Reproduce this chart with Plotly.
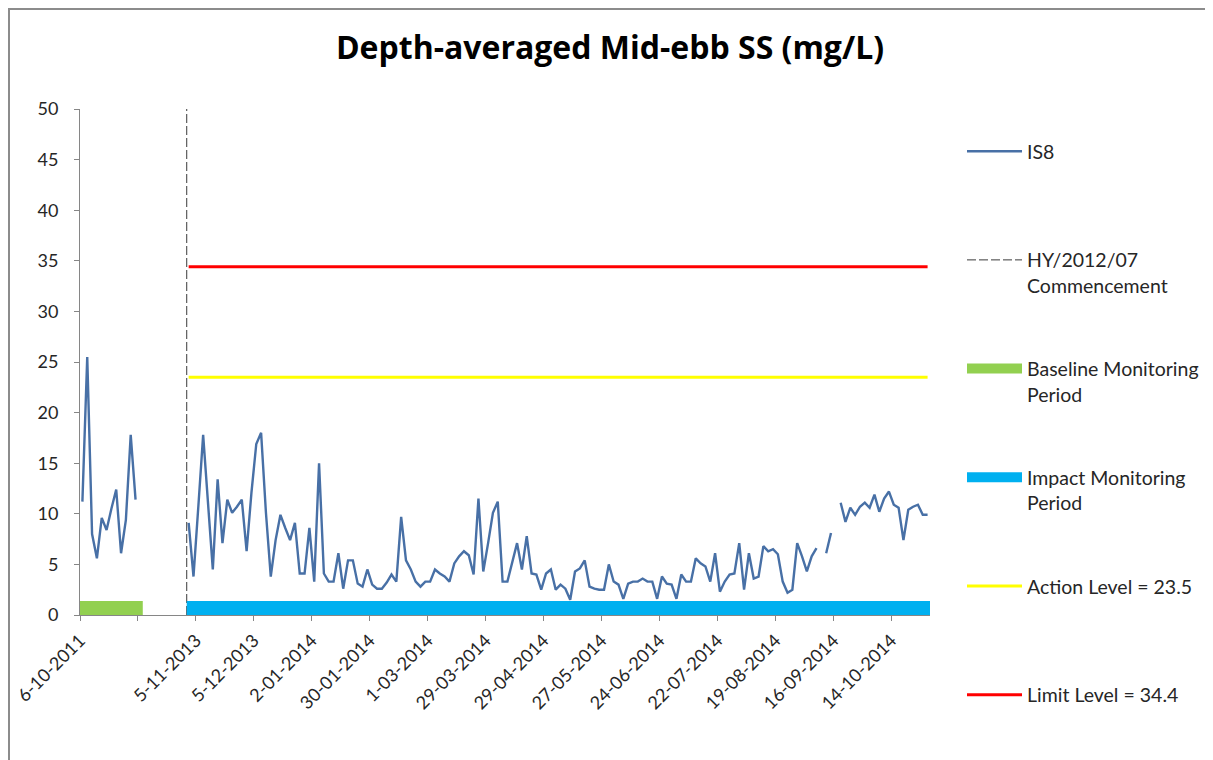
import plotly.graph_objects as go

# ---------------- data ----------------
baseline_values = [11.2, 25.5, 8.0, 5.6, 9.6, 8.4, 10.5, 12.4, 6.1, 9.4, 17.8, 11.4]
gap_categories = 10  # empty categories between baseline and impact monitoring
impact_values = [
    9.1, 3.8, 10.7, 17.8, 11.1, 4.5, 13.4, 7.1, 11.4, 10.1,
    10.7, 11.4, 6.3, 12.1, 16.9, 18.0, 10.1, 3.8, 7.4, 9.9,
    8.6, 7.4, 9.1, 4.1, 4.1, 8.6, 3.3, 15.0, 4.1, 3.3,
    3.3, 6.1, 2.6, 5.4, 5.4, 3.1, 2.8, 4.5, 3.0, 2.6,
    2.6, 3.2, 4.0, 3.3, 9.7, 5.4, 4.5, 3.3, 2.8, 3.3,
    3.3, 4.5, 4.1, 3.8, 3.3, 5.1, 5.8, 6.3, 5.9, 4.0,
    11.5, 4.3, 7.1, 10.1, 11.2, 3.3, 3.3, 5.1, 7.1, 4.5,
    7.8, 4.1, 4.0, 2.5, 4.1, 4.5, 2.5, 3.0, 2.6, 1.5,
    4.3, 4.6, 5.4, 2.8, 2.6, 2.5, 2.5, 5.0, 3.3, 3.0,
    1.6, 3.1, 3.3, 3.3, 3.6, 3.3, 3.3, 1.6, 3.8, 3.1,
    3.0, 1.6, 4.0, 3.3, 3.3, 5.6, 5.1, 4.8, 3.3, 6.1,
    2.3, 3.3, 4.0, 4.1, 7.1, 2.5, 6.1, 3.6, 3.8, 6.8,
    6.3, 6.5, 6.0, 3.3, 2.2, 2.5, 7.1, 5.8, 4.3, 5.8,
    6.6, None, 6.1, 8.1, None, 11.1, 9.2, 10.6, 9.9, 10.7,
    11.1, 10.6, 11.9, 10.2, 11.5, 12.2, 10.9, 10.6, 7.4, 10.4,
    10.7, 10.9, 9.9, 9.9,
]
tick_labels = ['6-10-2011', '', '5-11-2013', '5-12-2013', '2-01-2014', '30-01-2014',
               '1-03-2014', '29-03-2014', '29-04-2014', '27-05-2014', '24-06-2014',
               '22-07-2014', '19-08-2014', '16-09-2014', '14-10-2014']
label_interval = 12
action_level = 23.5
limit_level = 34.4
commencement_category = 21.6
baseline_period = [-0.5, 12.5]
impact_period = [21.6, 175.5]
period_marker_level = 0.7

# ---------------- build ----------------
is8 = baseline_values + [None] * gap_categories + impact_values
x = list(range(len(is8)))
impact_start = len(baseline_values) + gap_categories
last_cat = len(is8) - 1
tickvals = [k * label_interval - 0.5 for k in range(len(tick_labels))]

font_family = "Lato, 'Open Sans', sans-serif"
text_col = '#262626'

fig = go.Figure()
fig.add_trace(go.Scatter(x=x, y=is8, mode='lines', name='IS8<br> ', legendgroup='a',
                         line=dict(color='#4870A6', width=2.4), connectgaps=False))
fig.add_trace(go.Scatter(x=[commencement_category, commencement_category], y=[0, 50], mode='lines',
                         name='HY/2012/07<br>Commencement', legendgroup='b',
                         line=dict(color='#3a3a3a', width=1, dash='9px,3px')))
fig.add_trace(go.Scatter(x=baseline_period, y=[period_marker_level] * 2, mode='lines',
                         name='Baseline Monitoring<br>Period', legendgroup='c',
                         line=dict(color='#92D050', width=14)))
fig.add_trace(go.Scatter(x=impact_period, y=[period_marker_level] * 2, mode='lines',
                         name='Impact Monitoring<br>Period', legendgroup='d',
                         line=dict(color='#00B0F0', width=14)))
fig.add_trace(go.Scatter(x=[impact_start, last_cat], y=[action_level] * 2, mode='lines',
                         name='Action Level = 23.5<br> ', legendgroup='e',
                         line=dict(color='#FFFF00', width=3)))
fig.add_trace(go.Scatter(x=[impact_start, last_cat], y=[limit_level] * 2, mode='lines',
                         name='Limit Level = 34.4', legendgroup='f',
                         line=dict(color='#FF0000', width=3)))

# page has an 8px body margin, so the figure is sized/positioned to compensate
W, H = 1205, 752
ml, mr, mt, mb = 72, 283, 101, 145
pw, ph = W - ml - mr, H - mt - mb

def px_x(p):
    return (p - ml) / pw

def px_y(p):
    return (H - mb - p) / ph

fig.update_layout(
    width=W, height=H,
    margin=dict(l=ml, r=mr, t=mt, b=mb, pad=0, autoexpand=False),
    paper_bgcolor='white', plot_bgcolor='white',
    font=dict(family=font_family, color=text_col),
    title=dict(text='<b>Depth-averaged Mid-ebb SS (mg/L)</b>', x=602 / W, xanchor='center',
               xref='container', y=1 - 40 / H, yref='container', yanchor='middle',
               font=dict(size=32, color='#000000', family="'Open Sans', Lato, sans-serif")),
    xaxis=dict(range=[-0.5, last_cat + 0.5], tickmode='array', tickvals=tickvals,
               ticktext=tick_labels, tickangle=-45, showgrid=False, zeroline=False,
               showline=True, linecolor='#868686', linewidth=1, ticks='outside',
               ticklen=5, tickcolor='#868686', ticklabelstandoff=2, automargin=False,
               tickfont=dict(size=18, color=text_col)),
    yaxis=dict(range=[0, 50], tickmode='linear', tick0=0, dtick=5, showgrid=False,
               zeroline=False, showline=True, linecolor='#868686', linewidth=1,
               ticks='outside', ticklen=5, tickcolor='#868686', ticklabelstandoff=12,
               automargin=False, tickfont=dict(size=18, color=text_col)),
    legend=dict(x=px_x(954), xanchor='left', y=px_y(124), yanchor='top', valign='top',
                tracegroupgap=55, bgcolor='rgba(0,0,0,0)', itemwidth=55, maxheight=730,
                font=dict(size=19.5, color=text_col, family=font_family)),
    shapes=[
        dict(type='line', xref='paper', yref='paper', x0=px_x(1), x1=px_x(1),
             y0=px_y(0), y1=px_y(H + 5), line=dict(color='#8c8c8c', width=2)),
        dict(type='line', xref='paper', yref='paper', x0=px_x(0), x1=px_x(W + 5),
             y0=px_y(1), y1=px_y(1), line=dict(color='#8c8c8c', width=2)),
    ],
)

fig.write_html('out.html')
